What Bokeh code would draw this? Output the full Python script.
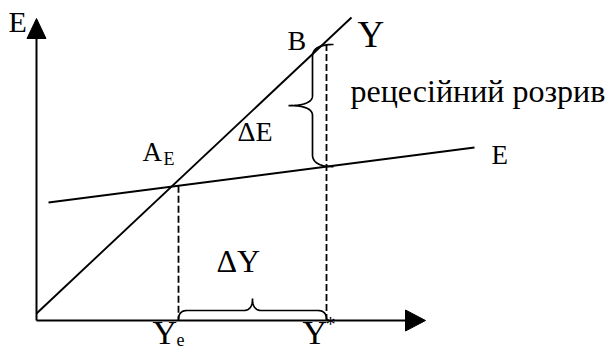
import numpy as np
from bokeh.plotting import figure
from bokeh.models import Range1d, Label
from bokeh.embed import file_html
from bokeh.resources import INLINE

# ---- diagram data (output Y on horizontal axis, expenditure E on vertical) ----
Y_LINE_Y = [0, 315]          # 45-degree line "Y"
Y_LINE_E = [7, 303]
E_LINE_Y = [12, 438]         # aggregate expenditure line "E"
E_LINE_E = [118, 173]
Y_EQ = 142                   # equilibrium output Ye
Y_STAR = 290                 # potential output Y*
AXIS_Y_MAX = 389
AXIS_E_MAX = 302

FONT = "Liberation Serif"


def interp(xs, ys, x):
    return ys[0] + (ys[1] - ys[0]) * (x - xs[0]) / (xs[1] - xs[0])


def quad(p0, c, p1, n=24):
    t = np.linspace(0, 1, n)[:, None]
    p0, c, p1 = np.array(p0, float), np.array(c, float), np.array(p1, float)
    return (1 - t) ** 2 * p0 + 2 * (1 - t) * t * c + t ** 2 * p1


def brace_local(L, h1, h2, r, q):
    m = L / 2.0
    segs = [
        quad((0, 0), (0, h1), (r, h1)),
        np.array([[r, h1], [m - q, h1]]),
        quad((m - q, h1), (m, h1), (m, h2)),
        quad((m, h2), (m, h1), (m + q, h1)),
        np.array([[m + q, h1], [L - r, h1]]),
        quad((L - r, h1), (L, h1), (L, 0)),
    ]
    return np.vstack(segs)


p = figure(width=605, height=353, output_backend="svg", toolbar_location=None,
           x_range=Range1d(-36, 569), y_range=Range1d(-33, 320),
           min_border=0, min_border_left=0, min_border_right=0,
           min_border_top=0, min_border_bottom=0)
p.axis.visible = False
p.grid.visible = False
p.outline_line_color = None
p.background_fill_color = "white"
p.border_fill_color = "white"

# axes
p.line([0, AXIS_Y_MAX - 10], [0, 0], line_color="black", line_width=2)
p.line([0, 0], [0, AXIS_E_MAX - 10], line_color="black", line_width=2)
p.patch([AXIS_Y_MAX, AXIS_Y_MAX - 20, AXIS_Y_MAX - 20], [0, 10.5, -10.5],
        fill_color="black", line_color="black", line_width=1)
p.patch([0, -9.5, 9.5], [AXIS_E_MAX, AXIS_E_MAX - 20, AXIS_E_MAX - 20],
        fill_color="black", line_color="black", line_width=1)

# lines
p.line(Y_LINE_Y, Y_LINE_E, line_color="black", line_width=1.9)
p.line(E_LINE_Y, E_LINE_E, line_color="black", line_width=1.9)

# dashed drop lines
e_at_ye = interp(E_LINE_Y, E_LINE_E, Y_EQ)
y_at_ystar = interp(Y_LINE_Y, Y_LINE_E, Y_STAR)
e_at_ystar = interp(E_LINE_Y, E_LINE_E, Y_STAR)
p.line([Y_EQ, Y_EQ], [e_at_ye, 0], line_color="black", line_width=1.8, line_dash="7 3")
p.line([Y_STAR, Y_STAR], [y_at_ystar - 3, 0], line_color="black", line_width=1.8, line_dash="7 3")

# horizontal brace (delta Y)
hb = brace_local(Y_STAR - Y_EQ, 9, 21, 9, 9)
p.line(Y_EQ + hb[:, 0], 1 + hb[:, 1], line_color="black", line_width=1.7)

# vertical brace (recessionary gap)
top = y_at_ystar - 3.5
vb = brace_local(top - e_at_ystar, 21, 45, 12, 10)
p.line(Y_STAR + 7 - vb[:, 1], top - vb[:, 0], line_color="black", line_width=1.7)

# labels (baseline given in data units; small lift compensates label box offset)
def lab(x, y, text, size):
    lift = 0.37 * size
    p.add_layout(Label(x=x, y=y + lift, text=text, text_font=FONT,
                       text_font_size=f"{size}px", text_color="black",
                       text_baseline="alphabetic", text_align="left"))

lab(-28, 288, "E", 30)
lab(106, 159, "A", 27)
lab(127, 155, "E", 18)
lab(201, 179, "ΔE", 28)
lab(251, 270, "B", 28)
lab(321, 272, "Y", 37)
lab(314, 218, "рецесійний розрив", 32)
lab(455, 156, "E", 27)
lab(180, 48, "ΔY", 32)
lab(116, -25, "Y", 34)
lab(140, -26, "e", 18)
lab(266, -25, "Y", 34)
lab(289, -11, "*", 20)

open("out.html", "w").write(file_html(p, INLINE))
